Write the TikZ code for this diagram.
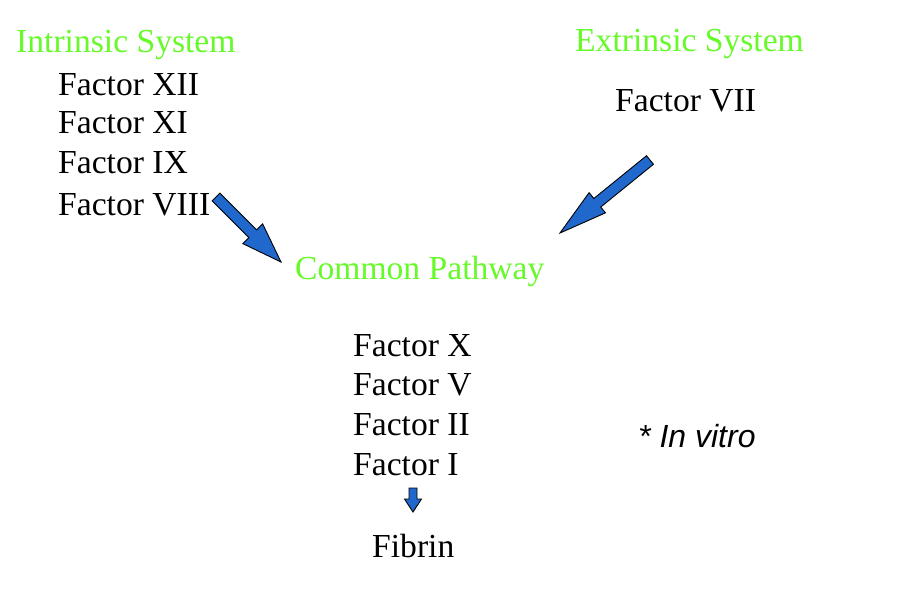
\documentclass[tikz,border=0pt]{standalone}
\usepackage{fontspec}
\setmainfont{Liberation Serif}
\newfontfamily\arialfont{Liberation Sans}
\usetikzlibrary{calc}
\definecolor{sysgreen}{RGB}{102,250,40}
\definecolor{arrblue}{RGB}{33,104,204}
\tikzset{
  lbl/.style={anchor=base west,inner sep=0pt,font=\fontsize{33.6}{40}\selectfont},
  sys/.style={lbl,text=sysgreen},
  blockarrow/.style={fill=arrblue,draw=black,line width=0.9pt,line join=miter}
}
\newcommand{\blockarr}[5]{%
  \coordinate (hh) at ($(#2)!#5!(#1)$);
  \draw[blockarrow] ($(#1)!#3!90:(#2)$) -- ($(hh)!#3!-90:(#1)$) -- ($(hh)!#4!-90:(#1)$) -- (#2) -- ($(hh)!#4!90:(#1)$) -- ($(hh)!#3!90:(#1)$) -- ($(#1)!#3!-90:(#2)$) -- cycle;}
\begin{document}
\begin{tikzpicture}[x=1pt,y=-1pt]
\useasboundingbox[fill=white] (0,0) rectangle (900,597);
\node[sys] (intr) at (16,52) {Intrinsic System};
\node[lbl] (f12) at (58,95) {Factor XII};
\node[lbl] (f11) at (58,133) {Factor XI};
\node[lbl] (f9) at (58,173) {Factor IX};
\node[lbl] (f8) at (58,215) {Factor VIII};
\node[sys] (extr) at (575,51) {Extrinsic System};
\node[lbl] (f7) at (615,111) {Factor VII};
\node[sys] (common) at (295,279) {Common Pathway};
\node[lbl] (f10) at (353,356) {Factor X};
\node[lbl] (f5) at (353,395) {Factor V};
\node[lbl] (f2) at (353,435) {Factor II};
\node[lbl] (f1) at (353,475) {Factor I};
\node[lbl] (fib) at (372,557) {Fibrin};
\node[anchor=base west,inner sep=0pt,font=\arialfont\itshape\fontsize{32}{38}\selectfont] (vitro) at (638,447) {* In vitro};
\coordinate (la) at (216,197);
\coordinate (lb) at (281,262);
\coordinate (ra) at (650,160);
\coordinate (rb) at (560,233);
\coordinate (da) at (413,488);
\coordinate (db) at (413,512);
\blockarr{la}{lb}{5.5pt}{14pt}{40pt}
\blockarr{ra}{rb}{5.5pt}{13pt}{48pt}
\blockarr{da}{db}{4pt}{8.5pt}{13pt}
\end{tikzpicture}
\end{document}
